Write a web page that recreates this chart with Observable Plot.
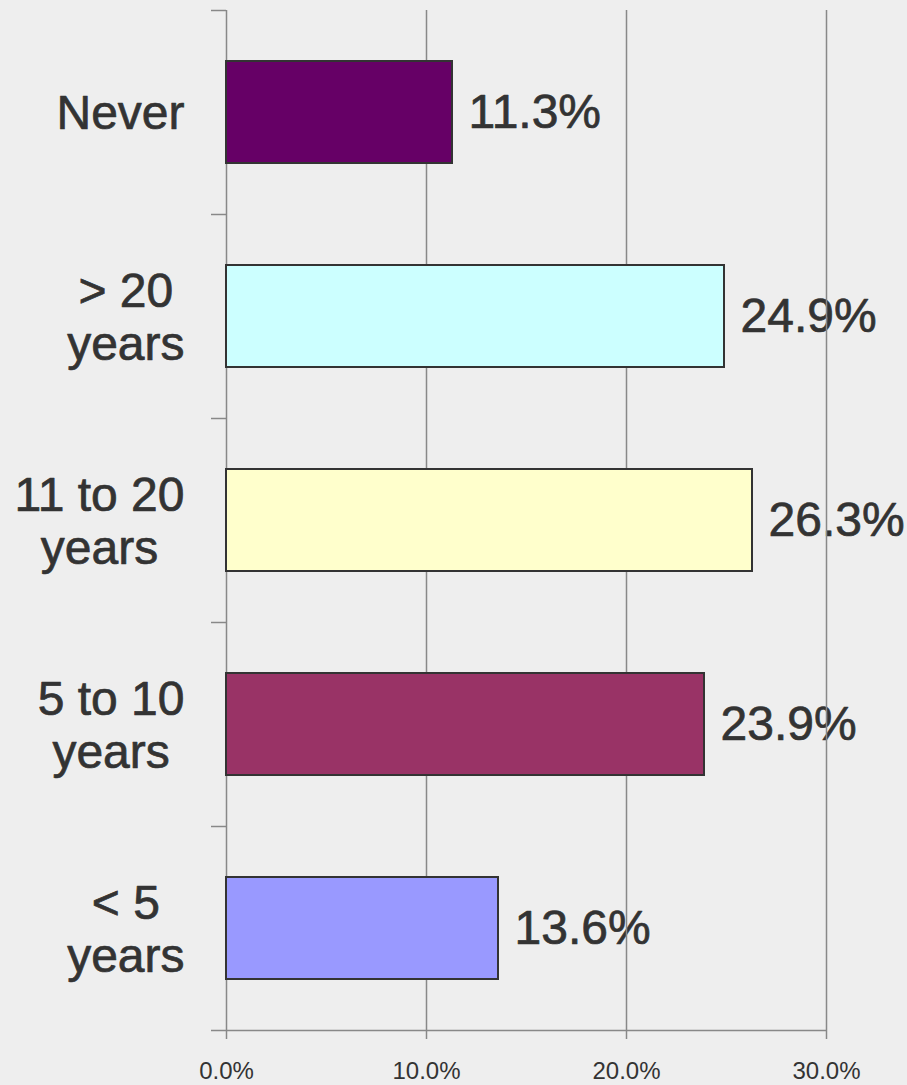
<!DOCTYPE html>
<html>
<head>
<meta charset="utf-8">
<script src="https://cdn.jsdelivr.net/npm/d3@7"></script>
<script src="https://cdn.jsdelivr.net/npm/@observablehq/plot@0.6"></script>
<style>
  html, body { margin: 0; padding: 0; background: #eeeeee; }
  #chart svg { display: block; }
</style>
</head>
<body>
<div id="chart"></div>
<script>
const categories = ["Never", "> 20 years", "11 to 20 years", "5 to 10 years", "< 5 years"];
const labelLines = [["Never"], ["> 20", "years"], ["11 to 20", "years"], ["5 to 10", "years"], ["< 5", "years"]];
const values = [11.3, 24.9, 26.3, 23.9, 13.6];
const colors = ["#660066", "#ccffff", "#ffffcc", "#993366", "#9999ff"];
const xTicks = [0, 10, 20, 30];

const W = 907, H = 1085;
const mL = 226, mR = 81, mT = 10, mB = 55;
const xMax = 30;
const pxPerUnit = (W - mL - mR) / xMax;
const fontFamily = "'Liberation Sans', Arial, Helvetica, sans-serif";
const labelSize = 48;

const ctx = document.createElement("canvas").getContext("2d");
ctx.font = `${labelSize}px ${fontFamily}`;

const data = categories.map((c, i) => {
  const lines = labelLines[i];
  const maxW = d3.max(lines, l => ctx.measureText(l).width);
  return {
    category: c,
    value: values[i],
    label: lines.join("\n"),
    labelX: -(42 + maxW / 2) / pxPerUnit
  };
});

const step = (H - mT - mB) / categories.length;
const last = categories[categories.length - 1];
const tickLen = 15 / pxPerUnit;

const plot = Plot.plot({
  width: W,
  height: H,
  marginLeft: mL,
  marginRight: mR,
  marginTop: mT,
  marginBottom: mB,
  style: { background: "#eeeeee", fontFamily: fontFamily, overflow: "visible" },
  x: { domain: [0, xMax], axis: null },
  y: { domain: categories, paddingInner: 0.5, paddingOuter: 0.25, axis: null },
  color: { domain: categories, range: colors },
  marks: [
    // value labels
    Plot.text(data, {
      x: "value", y: "category", text: d => d.value.toFixed(1) + "%",
      dx: 16, textAnchor: "start", fontSize: 48, fill: "#333333",
      stroke: "#333333", strokeWidth: 0.7
    }),
    // category labels (centered block, right edge near axis)
    Plot.text(data, {
      x: "labelX", y: "category", text: "label",
      textAnchor: "middle", lineAnchor: "middle", lineHeight: 1.1,
      fontSize: labelSize, fill: "#333333",
      stroke: "#333333", strokeWidth: 0.7
    }),
    // gridlines
    Plot.ruleX(xTicks.slice(1), { stroke: "#888888", strokeWidth: 1.5 }),
    // y axis line
    Plot.ruleX([0], { stroke: "#888888", strokeWidth: 1.5 }),
    // y axis ticks at band boundaries (top of each band)
    Plot.ruleY(categories, { y: d => d, x1: -tickLen, x2: 0, dy: -step / 2, stroke: "#888888", strokeWidth: 1.5 }),
    // bottom axis line (and last boundary tick)
    Plot.ruleY([last], { y: d => d, x1: -tickLen, x2: xMax, dy: step / 2, stroke: "#888888", strokeWidth: 1.5 }),
    // bars
    Plot.barX(data, {
      x: "value", y: "category", fill: "category",
      stroke: "#333333", strokeWidth: 2
    }),
    // x axis
    Plot.axisX(xTicks, {
      tickFormat: d => d.toFixed(1) + "%",
      tickSize: 9, tickPadding: 22,
      stroke: "#888888", strokeWidth: 1.5,
      fill: "#333333", fontSize: 24
    })
  ]
});

document.getElementById("chart").appendChild(plot);
</script>
</body>
</html>
